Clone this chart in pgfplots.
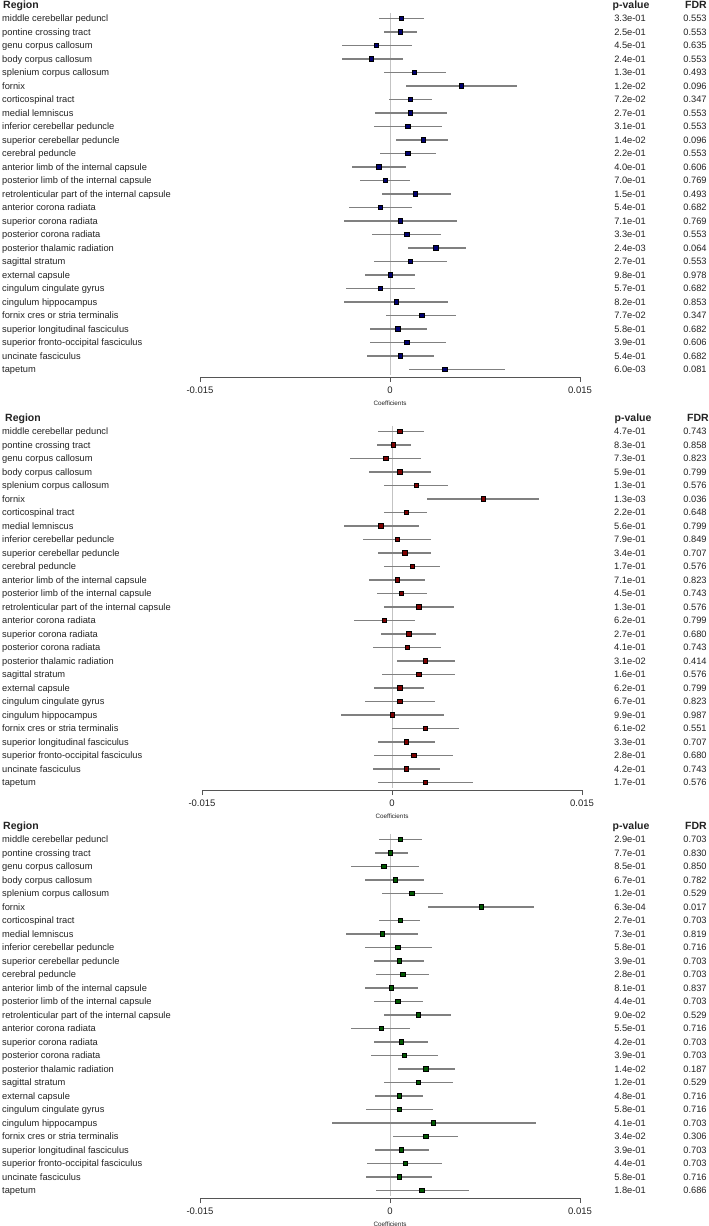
\documentclass[border=0pt]{standalone}
\usepackage{pgfplots}
\usepackage{pgfplotstable}
\pgfplotsset{compat=1.18}
\usepackage{fontspec}
\setmainfont{Liberation Sans}

\definecolor{navyc}{RGB}{0,0,112}
\definecolor{maroonc}{RGB}{125,0,0}
\definecolor{greenc}{RGB}{0,88,0}
\definecolor{cigray}{RGB}{128,128,128}
\definecolor{zerogray}{RGB}{195,195,195}
\definecolor{axgray}{RGB}{85,85,85}
\definecolor{txt}{RGB}{35,35,35}

\pgfplotstableread[col sep=comma]{
row,name
1,middle cerebellar peduncl
2,pontine crossing tract
3,genu corpus callosum
4,body corpus callosum
5,splenium corpus callosum
6,fornix
7,corticospinal tract
8,medial lemniscus
9,inferior cerebellar peduncle
10,superior cerebellar peduncle
11,cerebral peduncle
12,anterior limb of the internal capsule
13,posterior limb of the internal capsule
14,retrolenticular part of the internal capsule
15,anterior corona radiata
16,superior corona radiata
17,posterior corona radiata
18,posterior thalamic radiation
19,sagittal stratum
20,external capsule
21,cingulum cingulate gyrus
22,cingulum hippocampus
23,fornix cres or stria terminalis
24,superior longitudinal fasciculus
25,superior fronto-occipital fasciculus
26,uncinate fasciculus
27,tapetum
}\names

% row  estimate  lower  upper  p  FDR
\pgfplotstableread{
row est lo hi p fdr
1 0.0009 -0.0009 0.0027 3.3e-01 0.553
2 0.0008 -0.0005 0.0021 2.5e-01 0.553
3 -0.0011 -0.0038 0.0017 4.5e-01 0.635
4 -0.0015 -0.0038 0.0010 2.4e-01 0.553
5 0.0019 -0.0005 0.0044 1.3e-01 0.493
6 0.0056 0.0013 0.0100 1.2e-02 0.096
7 0.0016 -0.0001 0.0033 7.2e-02 0.347
8 0.0016 -0.0012 0.0045 2.7e-01 0.553
9 0.0014 -0.0013 0.0041 3.1e-01 0.553
10 0.0026 0.0005 0.0046 1.4e-02 0.096
11 0.0014 -0.0008 0.0036 2.2e-01 0.553
12 -0.0009 -0.0030 0.0013 4.0e-01 0.606
13 -0.0004 -0.0024 0.0016 7.0e-01 0.769
14 0.0020 -0.0006 0.0048 1.5e-01 0.493
15 -0.0008 -0.0032 0.0017 5.4e-01 0.682
16 0.0008 -0.0036 0.0053 7.1e-01 0.769
17 0.0013 -0.0014 0.0040 3.3e-01 0.553
18 0.0036 0.0014 0.0060 2.4e-03 0.064
19 0.0016 -0.0013 0.0045 2.7e-01 0.553
20 0.0000 -0.0020 0.0020 9.8e-01 0.978
21 -0.0008 -0.0035 0.0020 5.7e-01 0.682
22 0.0005 -0.0036 0.0046 8.2e-01 0.853
23 0.0025 -0.0003 0.0052 7.7e-02 0.347
24 0.0006 -0.0016 0.0029 5.8e-01 0.682
25 0.0013 -0.0016 0.0044 3.9e-01 0.606
26 0.0008 -0.0018 0.0035 5.4e-01 0.682
27 0.0043 0.0015 0.0091 6.0e-03 0.081
}\tabA

\pgfplotstableread{
row est lo hi p fdr
1 0.0006 -0.0011 0.0025 4.7e-01 0.743
2 0.0001 -0.0012 0.0015 8.3e-01 0.858
3 -0.0005 -0.0033 0.0023 7.3e-01 0.823
4 0.0006 -0.0018 0.0031 5.9e-01 0.799
5 0.0019 -0.0006 0.0044 1.3e-01 0.576
6 0.0072 0.0028 0.0116 1.3e-03 0.036
7 0.0011 -0.0006 0.0028 2.2e-01 0.648
8 -0.0009 -0.0038 0.0021 5.6e-01 0.799
9 0.0004 -0.0023 0.0031 7.9e-01 0.849
10 0.0010 -0.0011 0.0031 3.4e-01 0.707
11 0.0016 -0.0006 0.0038 1.7e-01 0.576
12 0.0004 -0.0018 0.0026 7.1e-01 0.823
13 0.0007 -0.0012 0.0028 4.5e-01 0.743
14 0.0021 -0.0006 0.0049 1.3e-01 0.576
15 -0.0006 -0.0030 0.0018 6.2e-01 0.799
16 0.0013 -0.0009 0.0035 2.7e-01 0.680
17 0.0012 -0.0015 0.0039 4.1e-01 0.743
18 0.0026 0.0004 0.0050 3.1e-02 0.414
19 0.0021 -0.0008 0.0050 1.6e-01 0.576
20 0.0006 -0.0014 0.0025 6.2e-01 0.799
21 0.0006 -0.0021 0.0034 6.7e-01 0.823
22 0.0000 -0.0040 0.0041 9.9e-01 0.987
23 0.0026 0.0000 0.0053 6.1e-02 0.551
24 0.0011 -0.0011 0.0034 3.3e-01 0.707
25 0.0017 -0.0014 0.0048 2.8e-01 0.680
26 0.0011 -0.0015 0.0038 4.2e-01 0.743
27 0.0026 -0.0011 0.0064 1.7e-01 0.576
}\tabB

\pgfplotstableread{
row est lo hi p fdr
1 0.0008 -0.0009 0.0025 2.9e-01 0.703
2 0.0000 -0.0012 0.0014 7.7e-01 0.830
3 -0.0005 -0.0031 0.0023 8.5e-01 0.850
4 0.0004 -0.0020 0.0027 6.7e-01 0.782
5 0.0017 -0.0006 0.0042 1.2e-01 0.529
6 0.0072 0.0030 0.0114 6.3e-04 0.017
7 0.0008 -0.0009 0.0024 2.7e-01 0.703
8 -0.0006 -0.0035 0.0022 7.3e-01 0.819
9 0.0006 -0.0020 0.0033 5.8e-01 0.716
10 0.0007 -0.0013 0.0027 3.9e-01 0.703
11 0.0010 -0.0011 0.0031 2.8e-01 0.703
12 0.0001 -0.0020 0.0022 8.1e-01 0.837
13 0.0006 -0.0013 0.0026 4.4e-01 0.703
14 0.0022 -0.0005 0.0048 9.0e-02 0.529
15 -0.0007 -0.0031 0.0016 5.5e-01 0.716
16 0.0009 -0.0013 0.0030 4.2e-01 0.703
17 0.0011 -0.0015 0.0038 3.9e-01 0.703
18 0.0028 0.0006 0.0051 1.4e-02 0.187
19 0.0022 -0.0005 0.0050 1.2e-01 0.529
20 0.0007 -0.0012 0.0026 4.8e-01 0.716
21 0.0007 -0.0019 0.0034 5.8e-01 0.716
22 0.0034 -0.0046 0.0115 4.1e-01 0.703
23 0.0028 0.0002 0.0054 3.4e-02 0.306
24 0.0009 -0.0012 0.0031 3.9e-01 0.703
25 0.0012 -0.0018 0.0041 4.4e-01 0.703
26 0.0007 -0.0019 0.0033 5.8e-01 0.716
27 0.0025 -0.0011 0.0062 1.8e-01 0.686
}\tabC

\pgfplotsset{
  forest/.style={
    scale only axis, width=380pt, height=376.9pt,
    xmin=-0.015, xmax=0.015, ymin=-27.57, ymax=0.35,
    enlargelimits=false, clip=false,
    scaled x ticks=false, scaled y ticks=false,
    axis x line*=bottom, axis y line=none,
    x axis line style={draw=axgray, line width=0.9pt},
    xtick={-0.015,0,0.015}, xticklabels={-0.015,0,0.015},
    tick align=outside, major tick length=5pt,
    xtick style={draw=axgray, line width=0.9pt},
    xticklabel style={font=\fontsize{9.5}{10}\selectfont, text=txt, anchor=center, yshift=-8pt},
    xlabel={Coefficients},
    xlabel style={at={(axis description cs:0.5,0)}, anchor=center, yshift=-26.5pt,
      font=\fontsize{6.3}{7}\selectfont, text=txt},
    anchor=south west,
  },
  textcol/.style={draw=none, mark=none, nodes near coords, point meta=explicit symbolic,
    nodes near coords align={anchor=#1},
    every node near coord/.style={anchor=#1, yshift=-3.4pt, inner sep=0pt,
      font=\fontsize{9.3}{10}\selectfont, text=txt}},
  cis/.style={draw=none, mark=square*, mark size=2.2pt,
    mark options={fill=#1, draw=black, line width=0.3pt, solid},
    error bars/.cd, x dir=both, x explicit, error mark=none,
    error bar style={draw=cigray, line width=1.5pt, solid}},
}

\newcommand{\heads}{%
  \node[anchor=base west, inner sep=0pt, yshift=-3.8pt, font=\bfseries\fontsize{10.5}{11}\selectfont, text=txt] at (axis cs:-0.03055,0) {Region};
  \node[anchor=base, inner sep=0pt, yshift=-3.8pt, font=\bfseries\fontsize{10.5}{11}\selectfont, text=txt] at (axis cs:0.01903,0) {p-value};
  \node[anchor=base, inner sep=0pt, yshift=-3.8pt, font=\bfseries\fontsize{10.5}{11}\selectfont, text=txt] at (axis cs:0.02416,0) {FDR};
}

\begin{document}
\begin{tikzpicture}
\path[use as bounding box] (0,0) rectangle (709pt,-1226pt);

% panel 1
\begin{axis}[forest, at={(200pt,-377pt)}]
\heads
\addplot[zerogray, line width=0.8pt] coordinates {(0,-0.6) (0,-27.4)};
\addplot[textcol=base west] table[x expr=-0.03063, y expr=-\thisrow{row}, meta=name] \names;
\addplot[textcol=base] table[x expr=0.01895, y expr=-\thisrow{row}, meta=p] \tabA;
\addplot[textcol=base] table[x expr=0.02408, y expr=-\thisrow{row}, meta=fdr] \tabA;
\addplot[cis=navyc] table[x=est, y expr=-\thisrow{row},
  x error plus expr=\thisrow{hi}-\thisrow{est}, x error minus expr=\thisrow{est}-\thisrow{lo}] \tabA;
\end{axis}

% panel 2
\begin{axis}[forest, at={(202pt,-790pt)}]
\heads
\addplot[zerogray, line width=0.8pt] coordinates {(0,-0.6) (0,-27.4)};
\addplot[textcol=base west] table[x expr=-0.03079, y expr=-\thisrow{row}, meta=name] \names;
\addplot[textcol=base] table[x expr=0.01879, y expr=-\thisrow{row}, meta=p] \tabB;
\addplot[textcol=base] table[x expr=0.02392, y expr=-\thisrow{row}, meta=fdr] \tabB;
\addplot[cis=maroonc] table[x=est, y expr=-\thisrow{row},
  x error plus expr=\thisrow{hi}-\thisrow{est}, x error minus expr=\thisrow{est}-\thisrow{lo}] \tabB;
\end{axis}

% panel 3
\begin{axis}[forest, at={(200pt,-1198pt)}]
\heads
\addplot[zerogray, line width=0.8pt] coordinates {(0,-0.6) (0,-27.4)};
\addplot[textcol=base west] table[x expr=-0.03063, y expr=-\thisrow{row}, meta=name] \names;
\addplot[textcol=base] table[x expr=0.01895, y expr=-\thisrow{row}, meta=p] \tabC;
\addplot[textcol=base] table[x expr=0.02408, y expr=-\thisrow{row}, meta=fdr] \tabC;
\addplot[cis=greenc] table[x=est, y expr=-\thisrow{row},
  x error plus expr=\thisrow{hi}-\thisrow{est}, x error minus expr=\thisrow{est}-\thisrow{lo}] \tabC;
\end{axis}
\end{tikzpicture}
\end{document}
